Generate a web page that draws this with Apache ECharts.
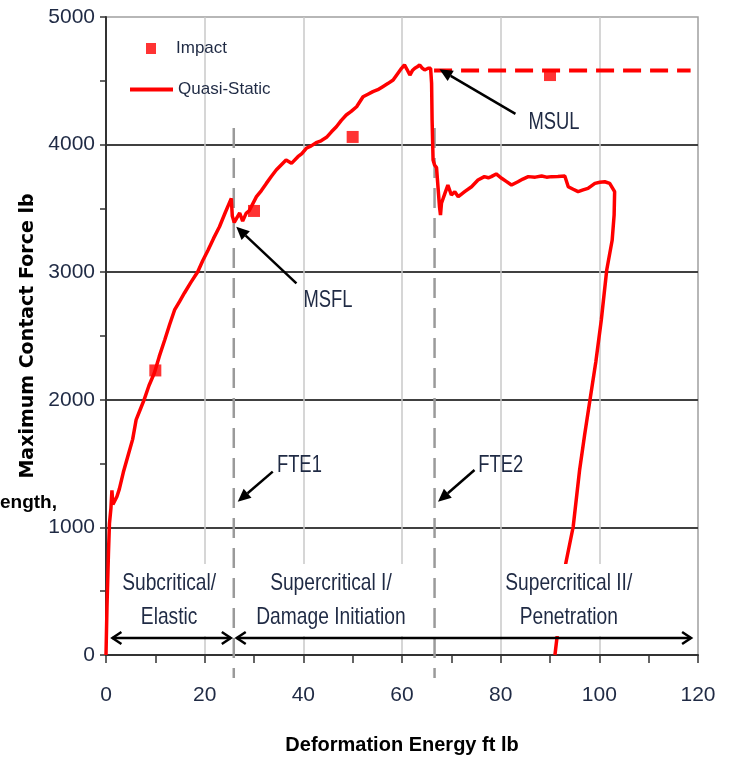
<!DOCTYPE html>
<html><head><meta charset="utf-8">
<script src="https://cdn.jsdelivr.net/npm/echarts@6/dist/echarts.min.js"></script>
<style>html,body{margin:0;padding:0;background:#fff}#c{width:730px;height:757px}</style>
</head><body><div id="c"></div>
<script>
// ---- data ----
const impactX = [10, 30, 50, 90];
const impactY = [2230, 3480, 4060, 4545];

const qsX = [0,0.2,0.5,0.7,1.0,1.2,1.4,1.8,2.2,2.7,3.5,4.4,5.4,6.1,7.0,7.7,8.7,9.8,10.8,11.9,12.9,13.9,14.9,15.9,17.2,18.6,19.6,20.7,21.8,23.0,24.2,25.4,25.6,26.0,26.4,27.1,27.7,28.4,29.0,30.5,31.5,32.5,33.5,34.5,35.5,36.5,37.6,38.9,39.7,40.6,41.6,42.6,43.6,44.7,45.7,46.7,47.7,48.7,49.7,50.8,52.1,53.1,54.1,55.1,56.1,57.2,58.2,59.0,59.9,60.5,61.0,61.6,62.1,62.6,63.1,63.6,64.1,64.6,65.3,65.8,66.0,66.1,66.3,66.6,67.0,67.3,67.6,67.8,68.0,68.7,69.3,70.0,70.7,71.4,72.0,72.7,74.1,75.4,76.7,77.5,78.1,79.1,80.2,81.2,82.2,83.5,84.5,85.6,87.0,88.3,89.3,90.3,91.6,93.0,93.7,94.7,95.7,96.7,97.7,99.1,100.1,101.1,102.1,103.1,103.0,102.6,101.5,100.4,99.3,98.1,97.0,96.0,94.7,93.2,91.0];
const qsY = [0,380,800,1030,1150,1290,1180,1190,1240,1300,1430,1554,1690,1842,1930,1998,2110,2210,2340,2469,2590,2704,2770,2837,2920,3004,3090,3174,3265,3356,3470,3579,3440,3390,3383,3464,3400,3461,3480,3592,3640,3696,3750,3801,3840,3879,3853,3905,3930,3971,3990,4015,4030,4057,4100,4140,4190,4232,4260,4297,4375,4395,4415,4430,4454,4480,4506,4550,4598,4624,4590,4545,4580,4598,4610,4624,4600,4585,4598,4598,4480,4193,3879,3840,3820,3827,3513,3448,3540,3618,3683,3605,3631,3592,3610,3631,3670,3722,3749,3740,3749,3770,3736,3710,3683,3709,3730,3749,3745,3754,3745,3749,3750,3754,3670,3650,3631,3645,3657,3696,3705,3709,3696,3631,3450,3250,3017,2625,2300,1998,1720,1450,1005,719,0];

const msulX = [66.5, 118.5];
const msulY = [4580, 4580];

const fteX = [25.9, 66.6];
const fteYRange = [4130, -180];

const xMin = 0, xMax = 120, xStep = 20;
const yMin = 0, yMax = 5000, yStep = 1000;

// annotations (data coordinates)
const pointerArrows = [
  {from: [38.6, 2913], to: [26.4, 3357]},
  {from: [83.0, 4241], to: [67.6, 4590]},
  {from: [33.8, 1437], to: [26.7, 1201]},
  {from: [74.7, 1450], to: [67.3, 1201]}
];
const pointerTexts = [
  {text: 'MSFL', at: [45.0, 2774]},
  {text: 'MSUL', at: [90.8, 4169]},
  {text: 'FTE1', at: [39.2, 1481]},
  {text: 'FTE2', at: [80.0, 1481]}
];
const regionTexts = [
  {text: 'Subcritical/\nElastic', at: [12.8, 431]},
  {text: 'Supercritical I/\nDamage Initiation', at: [45.6, 431]},
  {text: 'Supercritical II/\nPenetration', at: [93.8, 431]}
];
const spanArrows = [
  {from: [1.3, 133], to: [25.3, 133]},
  {from: [26.5, 133], to: [118.6, 133]}
];

// ---- chart ----
const SANS = "'Liberation Sans',Arial,sans-serif";
const labelColor = '#1f2a44';
const chart = echarts.init(document.getElementById('c'), null, {renderer: 'canvas'});

const option = {
  animation: false,
  backgroundColor: '#fff',
  grid: {left: 106, right: 32, top: 17, bottom: 102, containLabel: false, outerBoundsMode: 'none',
         show: true, borderColor: '#a0a0a0', borderWidth: 1.5},
  xAxis: {
    type: 'value', min: xMin, max: xMax, interval: xStep,
    axisLine: {show: true, onZero: false, lineStyle: {color: '#333', width: 2}},
    axisTick: {show: true, length: 8, lineStyle: {color: '#333', width: 1.5}},
    minorTick: {show: true, splitNumber: 2, length: 8, lineStyle: {color: '#333', width: 1.5}},
    axisLabel: {margin: 30, fontSize: 21, fontFamily: SANS, color: labelColor, formatter: v => String(v)},
    splitLine: {show: true, showMinLine: false, showMaxLine: false, lineStyle: {color: '#c8c8c8', width: 1.5}},
    name: 'Deformation Energy ft lb', nameLocation: 'middle', nameGap: 80,
    nameTextStyle: {fontSize: 20, fontWeight: 'bold', fontFamily: SANS, color: '#000'}
  },
  yAxis: {
    type: 'value', min: yMin, max: yMax, interval: yStep,
    axisLine: {show: true, onZero: false, lineStyle: {color: '#333', width: 2}},
    axisTick: {show: true, length: 6, lineStyle: {color: '#333', width: 1.5}},
    minorTick: {show: true, splitNumber: 2, length: 6, lineStyle: {color: '#333', width: 1.5}},
    axisLabel: {margin: 11, fontSize: 21, fontFamily: SANS, color: labelColor, formatter: v => String(v)},
    splitLine: {show: true, showMinLine: false, showMaxLine: false, lineStyle: {color: '#404040', width: 2}},
    name: 'Maximum Contact Force lb', nameLocation: 'middle', nameRotate: 90, nameGap: 66,
    nameTextStyle: {fontSize: 19, fontWeight: 'bold', fontFamily: 'DejaVu Sans', color: '#000'}
  },
  legend: [
    {data: ['Impact'], left: 146, top: 40, padding: 0, icon: 'rect', itemWidth: 10, itemHeight: 11, selectedMode: false,
     textStyle: {fontSize: 17, fontFamily: SANS, color: labelColor, padding: [0, 0, 0, 15]}},
    {data: ['Quasi-Static'], left: 130, top: 81, padding: 0, icon: 'rect', itemWidth: 43, itemHeight: 4, selectedMode: false,
     textStyle: {fontSize: 17, fontFamily: SANS, color: labelColor}}
  ],
  series: [
    {name: 'Quasi-Static', type: 'line', data: qsX.map((x, i) => [x, qsY[i]]), symbol: 'none', showSymbol: false,
     lineStyle: {color: '#ff0000', width: 3.5}, itemStyle: {color: '#ff0000'}, z: 3},
    {name: 'MSUL level', type: 'line', data: msulX.map((x, i) => [x, msulY[i]]), symbol: 'none',
     lineStyle: {color: '#ff0000', width: 4, type: [18, 9]}, itemStyle: {color: '#ff0000'}, z: 3},
    {name: 'Impact', type: 'scatter', data: impactX.map((x, i) => [x, impactY[i]]), symbol: 'rect', symbolSize: 12,
     itemStyle: {color: '#ff0000'}, z: 4}
  ]
};
chart.setOption(option);

// ---- annotations via the chart's own coordinate conversion ----
const P = p => chart.convertToPixel({xAxisIndex: 0, yAxisIndex: 0}, p);
function headPts(tip, from, len, half) {
  let dx = tip[0] - from[0], dy = tip[1] - from[1];
  const L = Math.hypot(dx, dy); dx /= L; dy /= L;
  const bx = tip[0] - dx * len, by = tip[1] - dy * len;
  return [[bx - dy * half, by + dx * half], tip, [bx + dy * half, by - dx * half]];
}
const g = [];
fteX.forEach(x => {
  const a = P([x, fteYRange[0]]), b = P([x, fteYRange[1]]);
  g.push({type: 'line', z: 1, shape: {x1: a[0], y1: a[1], x2: b[0], y2: b[1]},
          style: {stroke: '#9a9a9a', lineWidth: 2.5, lineDash: [20, 10]}});
});
regionTexts.forEach(t => {
  const p = P(t.at);
  g.push({type: 'text', z: 10, x: p[0], y: p[1], scaleX: 0.8,
          style: {text: t.text, font: '24px ' + SANS, fill: labelColor, align: 'center', verticalAlign: 'middle',
                  lineHeight: 34, backgroundColor: '#fff', padding: [2, 4]}});
});
pointerArrows.forEach(a => {
  const f = P(a.from), t = P(a.to);
  const h = headPts(t, f, 13, 6);
  const base = [(h[0][0] + h[2][0]) / 2, (h[0][1] + h[2][1]) / 2];
  g.push({type: 'line', z: 11, shape: {x1: f[0], y1: f[1], x2: base[0], y2: base[1]}, style: {stroke: '#000', lineWidth: 2.5}});
  g.push({type: 'polygon', z: 11, shape: {points: h}, style: {fill: '#000'}});
});
pointerTexts.forEach(t => {
  const p = P(t.at);
  g.push({type: 'text', z: 11, x: p[0], y: p[1], scaleX: 0.8,
          style: {text: t.text, font: '23px ' + SANS, fill: labelColor, align: 'center', verticalAlign: 'middle'}});
});
spanArrows.forEach(a => {
  const f = P(a.from), t = P(a.to);
  g.push({type: 'line', z: 11, shape: {x1: f[0], y1: f[1], x2: t[0], y2: t[1]}, style: {stroke: '#000', lineWidth: 2.5}});
  g.push({type: 'polyline', z: 11, shape: {points: headPts(t, f, 9, 6)}, style: {stroke: '#000', lineWidth: 2.5, fill: null}});
  g.push({type: 'polyline', z: 11, shape: {points: headPts(f, t, 9, 6)}, style: {stroke: '#000', lineWidth: 2.5, fill: null}});
});
g.push({type: 'text', z: 11, x: 0, y: 503,
        style: {text: 'ength,', font: 'bold 19px ' + SANS, fill: '#000', align: 'left', verticalAlign: 'middle'}});
chart.setOption({graphic: g});
</script>
</body></html>
